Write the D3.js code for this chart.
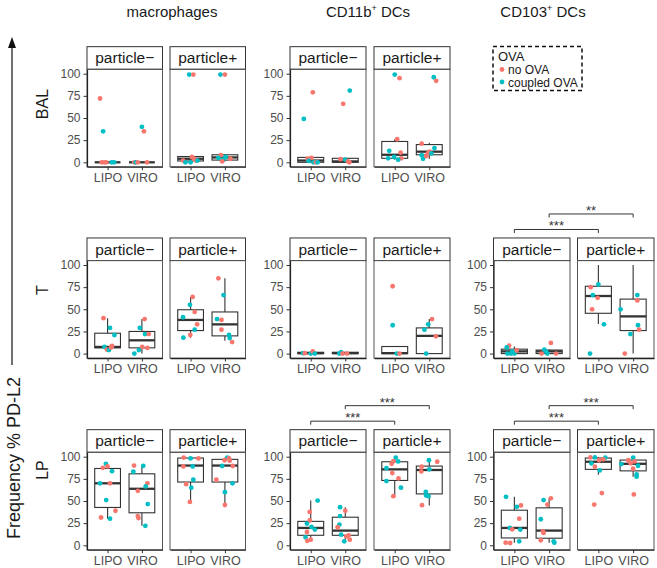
<!DOCTYPE html>
<html><head><meta charset="utf-8">
<script src="https://cdn.jsdelivr.net/npm/d3@7"></script>
<style>body{margin:0;background:#fff}svg{display:block;font-family:"Liberation Sans",Arial,sans-serif}</style>
</head><body><svg id="c" width="657" height="568"></svg>
<script>
// ---------------- data ----------------
const tissues = ["BAL", "T", "LP"];
const cellTypes = [["macrophages", ""], ["CD11b", "+", " DCs"], ["CD103", "+", " DCs"]];
const particles = ["particle\u2212", "particle+"];
const vehicles = ["LIPO", "VIRO"];
const ovaLevels = ["no OVA", "coupled OVA"];
const yTicks = [0, 25, 50, 75, 100];
const yLabel = "Frequency % PD-L2";

// box stats per panel: [p-LIPO, p-VIRO, p+LIPO, p+VIRO], each [lower whisker, Q1, median, Q3, upper whisker]
const balMacBoxes   = [[0,0,0,0,0],[0,0,0,0,0],[0,1.5,4,6.5,8],[1,2.5,5.5,8.5,9]];
const balCd11bBoxes = [[0,0,2,5.5,7],[0,0,1,4.5,5],[3,4.5,8.5,23.5,26],[4,8.5,12,20,22]];
const tMacBoxes     = [[2.5,6.5,7.5,23,40],[0,6.5,15,25,39],[18,26,38,49.5,64],[14.5,20,33,47,85]];
const tCd11bBoxes   = [[0,0,0.5,1.5,2.5],[0,0,0.5,1.5,1.5],[0,0,0.5,8,8],[0,0,20,29,39]];
const tCd103Boxes   = [[0,0,2.5,5,8],[0,0,2.5,4,4.5],[33.5,45.5,65,76,100],[0,26,42,61.5,100]];
const lpMacBoxes    = [[30,42.7,70,86.7,92],[22,36.7,63.8,80.7,89.7],[49,71.4,90,98.5,99],[45.5,71.4,90,97,99]];
const lpCd11bBoxes  = [[4.5,11.3,19.6,27,50.5],[4.5,11.3,16.6,31.7,43],[55.5,73.2,85.7,94.3,99],[45,58,85,89.4,97]];
const lpCd103Boxes  = [[3,8.3,19.6,39.6,54.7],[3,8,16.6,42.3,53],[79.6,85.7,94.3,98.5,99.6],[77.4,84,92,96.2,99]];

// points: [particle, vehicle, ova, value %, jitter (category units)]
const balMacPoints = [
 [0,0,0,72,-0.22],[0,0,1,35,-0.13],[0,0,0,0,-0.17],[0,0,0,0,-0.1],[0,0,0,0,-0.04],[0,0,1,0,0.12],[0,0,1,0,0.19],
 [0,1,1,40,0],[0,1,0,35,0.06],[0,1,0,0,-0.22],[0,1,1,0,-0.18],[0,1,0,0,-0.12],[0,1,0,0,0.15],
 [1,0,1,99,-0.04],[1,0,0,99,0.08],[1,0,0,2,-0.22],[1,0,1,0,-0.15],[1,0,1,0,0],[1,0,0,6,0.04],[1,0,0,4,0.1],[1,0,0,2,0.16],[1,0,1,2,0.2],
 [1,1,1,99,-0.13],[1,1,0,99,0],[1,1,0,8,-0.12],[1,1,1,5,-0.19],[1,1,1,3,-0.06],[1,1,0,1,-0.08],[1,1,1,6,0.02],[1,1,0,4,0.16]];
const balCd11bPoints = [
 [0,0,1,49,-0.2],[0,0,0,79,0.06],[0,0,0,4,-0.09],[0,0,0,5,0.02],[0,0,1,1.5,-0.06],[0,0,1,0,0.08],[0,0,0,0,0.15],[0,0,1,0,0.2],
 [0,1,1,81,0.13],[0,1,0,66,-0.06],[0,1,0,3.5,-0.14],[0,1,1,3,0],[0,1,0,1,0.08],[0,1,0,0,0.12],
 [1,0,1,99,0],[1,0,0,95,0.14],[1,0,0,26,0.07],[1,0,1,13,-0.16],[1,0,1,4.5,-0.19],[1,0,1,6,-0.02],[1,0,0,11,0.17],[1,0,0,4.5,0.19],[1,0,1,3,0.1],
 [1,1,1,96,0.13],[1,1,0,92,0.2],[1,1,0,21,-0.22],[1,1,1,16,0.15],[1,1,1,8,-0.22],[1,1,1,4,-0.18],[1,1,0,10,-0.04],[1,1,0,12,0.01],[1,1,1,10,0.06],[1,1,0,7,-0.09]];
const tMacPoints = [
 [0,0,0,40,-0.12],[0,0,1,29,0.07],[0,0,1,21,0.2],[0,0,1,7.5,-0.09],[0,0,0,4.5,-0.02],[0,0,1,4,0.04],[0,0,0,7,0.1],[0,0,0,8.6,0.13],
 [0,1,0,39,0.08],[0,1,1,29,-0.06],[0,1,1,22,0.09],[0,1,0,22,0.2],[0,1,0,7.5,0.01],[0,1,0,6.4,0.16],[0,1,1,4,-0.09],[0,1,1,0,-0.22],
 [1,0,0,64,0.06],[1,0,1,55,-0.02],[1,0,0,47,0.12],[1,0,1,41,-0.22],[1,0,0,33,0.19],[1,0,1,27,0.12],[1,0,0,21,-0.01],[1,0,1,18,-0.21],
 [1,1,0,85,-0.19],[1,1,1,66,-0.04],[1,1,1,39,-0.23],[1,1,0,38,-0.1],[1,1,0,27,-0.1],[1,1,1,21,0.12],[1,1,1,17.5,0.14],[1,1,0,13,0.21]];
const tCd11bPoints = [
 [0,0,1,0.5,-0.22],[0,0,0,0.5,-0.17],[0,0,1,0,0],[0,0,0,2.5,0.06],[0,0,1,0,0.12],
 [0,1,1,0,-0.17],[0,1,1,1.5,-0.12],[0,1,0,0,-0.08],[0,1,0,0,0.05],
 [1,0,0,76,-0.06],[1,0,1,32,-0.06],[1,0,1,0,0.06],[1,0,0,0,0.14],
 [1,1,0,39,0.08],[1,1,1,33,-0.03],[1,1,1,27,-0.14],[1,1,0,19.5,0.19],[1,1,1,0,-0.09]];
const tCd103Points = [
 [0,0,0,9,-0.15],[0,0,1,7,-0.22],[0,0,1,0,-0.2],[0,0,1,0,-0.1],[0,0,1,0,0],[0,0,0,3.8,0.06],[0,0,1,2.6,-0.06],
 [0,1,0,12,0.05],[0,1,1,4.5,-0.14],[0,1,1,2.3,-0.09],[0,1,1,0,-0.05],[0,1,0,0,-0.22],[0,1,0,0,0.2],
 [1,0,1,78,0],[1,0,0,75,-0.22],[1,0,1,66,-0.16],[1,0,0,63,-0.02],[1,0,0,50,-0.18],[1,0,1,33,0.16],[1,0,1,0,-0.24],
 [1,1,1,66,0.12],[1,1,0,60,0.12],[1,1,1,50,-0.36],[1,1,1,32,0.14],[1,1,0,27,0.17],[1,1,1,22,-0.08],[1,1,0,0,-0.24]];
const lpMacPoints = [
 [0,0,1,92,-0.05],[0,0,0,89,0],[0,0,0,87.5,-0.14],[0,0,1,83.7,0.13],[0,0,1,70,-0.22],[0,0,0,70,0.07],[0,0,1,51,-0.04],[0,0,0,39,0.23],[0,0,0,31.4,-0.19],[0,0,1,30,0.07],
 [0,1,0,90,-0.23],[0,1,1,89.7,0.04],[0,1,1,83,-0.25],[0,1,0,70,0.16],[0,1,1,66.4,0.11],[0,1,0,61.5,-0.12],[0,1,1,46.5,0.17],[0,1,0,33,-0.12],[0,1,0,30.7,-0.1],[0,1,1,22,0.1],
 [1,0,0,99,-0.2],[1,0,1,98,0],[1,0,0,98,0.23],[1,0,0,89,-0.21],[1,0,1,89,0.06],[1,0,1,74,0.08],[1,0,0,69,-0.13],[1,0,1,65,0.02],[1,0,0,49,-0.02],
 [1,1,1,99,0.07],[1,1,0,98,0.12],[1,1,0,96,-0.01],[1,1,0,95.5,0.14],[1,1,1,89.5,-0.08],[1,1,0,89.5,0.23],[1,1,0,74,-0.25],[1,1,1,70,0.22],[1,1,1,60,0],[1,1,0,45.5,0]];
const lpCd11bPoints = [
 [0,0,1,50.5,0.2],[0,0,0,37.7,-0.03],[0,0,0,28,-0.03],[0,0,1,24.5,-0.11],[0,0,1,20.7,0.02],[0,0,1,17.7,0.12],[0,0,0,15,-0.11],[0,0,1,9,-0.15],[0,0,0,6.4,0],[0,0,0,5,-0.1],
 [0,1,1,43,-0.15],[0,1,0,39,0],[0,1,1,33,-0.15],[0,1,1,23.4,-0.17],[0,1,0,20.4,-0.22],[0,1,1,12,-0.12],[0,1,0,11.3,0.1],[0,1,0,10,0.03],[0,1,1,4.5,-0.03],[0,1,0,6.4,0.13],
 [1,0,1,99,0.03],[1,0,0,95,-0.04],[1,0,1,94.7,0.1],[1,0,0,92,-0.09],[1,0,1,87,-0.24],[1,0,0,81.5,-0.07],[1,0,0,75.5,0.11],[1,0,1,72.5,-0.24],[1,0,1,65,0.18],[1,0,0,55.5,-0.04],
 [1,1,1,96,-0.01],[1,1,0,94.3,0.23],[1,1,0,88.7,-0.22],[1,1,1,85.7,0],[1,1,0,83.4,-0.23],[1,1,1,60.4,-0.1],[1,1,1,56.2,-0.09],[1,1,1,55.5,-0.02],[1,1,0,45.3,-0.21]];
const lpCd103Points = [
 [0,0,1,54.7,-0.24],[0,0,0,45,0.19],[0,0,1,43.4,0.07],[0,0,0,30,0.14],[0,0,1,19.6,-0.13],[0,0,0,18,-0.06],[0,0,1,17.7,0.17],[0,0,1,4.5,0.14],[0,0,0,3,-0.25],[0,0,0,2.6,-0.12],
 [0,1,0,53,0.05],[0,1,1,51,-0.16],[0,1,0,46,-0.05],[0,1,1,29.4,-0.24],[0,1,0,15.8,-0.18],[0,1,0,14,-0.16],[0,1,0,5.7,-0.24],[0,1,1,4.5,0.13],[0,1,1,3,0.15],
 [1,0,0,99.2,-0.23],[1,0,1,99.2,-0.1],[1,0,1,98.9,0.2],[1,0,0,96,0.02],[1,0,0,97,0.14],[1,0,1,92.5,-0.2],[1,0,0,88.7,-0.1],[1,0,1,84.5,0.04],[1,0,0,58.9,0.1],[1,0,0,46,-0.12],
 [1,1,1,99,0],[1,1,0,96,-0.14],[1,1,0,94.7,0.04],[1,1,0,92.5,-0.07],[1,1,1,91.7,-0.34],[1,1,1,89.8,0.14],[1,1,0,86.4,0],[1,1,1,80,0.1],[1,1,1,77.4,0.1],[1,1,0,57.4,0.02]];

// significance: [tissue, cell, fromParticle, fromVehicle, toParticle, toVehicle, level, label]
const sigTests = [
 [1,2,0,0,1,0,0,"***"],[1,2,0,1,1,1,1,"**"],
 [2,1,0,0,1,0,0,"***"],[2,1,0,1,1,1,1,"***"],
 [2,2,0,0,1,0,0,"***"],[2,2,0,1,1,1,1,"***"]];

const panelTable = [
 {t:0,c:0,boxes:balMacBoxes,points:balMacPoints},
 {t:0,c:1,boxes:balCd11bBoxes,points:balCd11bPoints},
 {t:1,c:0,boxes:tMacBoxes,points:tMacPoints},
 {t:1,c:1,boxes:tCd11bBoxes,points:tCd11bPoints},
 {t:1,c:2,boxes:tCd103Boxes,points:tCd103Points},
 {t:2,c:0,boxes:lpMacBoxes,points:lpMacPoints},
 {t:2,c:1,boxes:lpCd11bBoxes,points:lpCd11bPoints},
 {t:2,c:2,boxes:lpCd103Boxes,points:lpCd103Points}];

// ---------------- layout ----------------
const colLayout = [
 {panels:[[87,162.5],[170,245.5]], titleX:172},
 {panels:[[290,366],[374,450]], titleX:368},
 {panels:[[493.5,570],[577.5,654]], titleX:543}];
const rowY100 = [73.7, 265, 456.7];
const ppu = 0.886, stripH = 22.6;
const rowLabelY = [104, 290, 470];
const colors = ["#F8766D", "#00BFC4"];
const ink = "#333333", axisText = "#4D4D4D";

const svg = d3.select("#c");
const font = '"Liberation Sans",Arial,sans-serif';

function yScale(t){
  const y100 = rowY100[t];
  return d3.scaleLinear().domain([-5,105]).range([y100+105*ppu, y100-5*ppu]);
}
function xScale(c,p){
  return d3.scalePoint().domain(vehicles).range(colLayout[c].panels[p]).padding(0.6);
}

// column titles
cellTypes.forEach((ct,i)=>{
  const t = svg.append("text").attr("x",colLayout[i].titleX).attr("y",17)
    .attr("text-anchor","middle").attr("font-size",15).attr("fill","#1a1a1a");
  t.append("tspan").text(ct[0]);
  if(ct[1]){ t.append("tspan").attr("font-size",9).attr("dy",-6).text(ct[1]);
             t.append("tspan").attr("dy",6).text(ct[2]); }
});

// row labels
tissues.forEach((tl,i)=>{
  svg.append("text").attr("transform",`translate(48,${rowLabelY[i]}) rotate(-90)`)
    .attr("text-anchor","middle").attr("font-size",16).attr("fill","#1a1a1a").text(tl);
});

// y label and arrow
svg.append("text").attr("transform","translate(20,458) rotate(-90)")
  .attr("text-anchor","middle").attr("font-size",18).attr("fill","#1a1a1a").text(yLabel);
svg.append("line").attr("x1",12).attr("x2",12).attr("y1",365).attr("y2",46)
  .attr("stroke","#111").attr("stroke-width",1.2);
svg.append("path").attr("d","M12,37 L8,48 L16,48 Z").attr("fill","#111");

// panels
panelTable.forEach(pd=>{
  const y = yScale(pd.t);
  const [yb, yt] = y.range();
  particles.forEach((pl,p)=>{
    const x = xScale(pd.c,p);
    const [x0,x1] = x.range();
    const g = svg.append("g");
    // strip
    g.append("rect").attr("x",x0).attr("y",yt-stripH).attr("width",x1-x0).attr("height",stripH)
      .attr("fill","#fff").attr("stroke",ink).attr("stroke-width",1);
    g.append("text").attr("x",(x0+x1)/2).attr("y",yt-6).attr("text-anchor","middle")
      .attr("font-size",15.5).attr("fill","#1a1a1a").text(pl);
    // panel border
    g.append("rect").attr("x",x0).attr("y",yt).attr("width",x1-x0).attr("height",yb-yt)
      .attr("fill","none").attr("stroke","#555").attr("stroke-width",1);
    // boxes
    const bw = x.step()*0.75;
    vehicles.forEach((v,vi)=>{
      const [lo,q1,med,q3,hi] = pd.boxes[p*2+vi];
      const cx = x(v);
      const bg = g.append("g").attr("stroke",ink).attr("fill","none");
      bg.append("line").attr("x1",cx).attr("x2",cx).attr("y1",y(hi)).attr("y2",y(q3)).attr("stroke-width",1.1);
      bg.append("line").attr("x1",cx).attr("x2",cx).attr("y1",y(q1)).attr("y2",y(lo)).attr("stroke-width",1.1);
      bg.append("rect").attr("x",cx-bw/2).attr("y",y(q3)).attr("width",bw).attr("height",Math.max(0,y(q1)-y(q3)))
        .attr("fill","#fff").attr("stroke-width",1.1);
      bg.append("line").attr("x1",cx-bw/2).attr("x2",cx+bw/2).attr("y1",y(med)).attr("y2",y(med)).attr("stroke-width",2.3);
    });
    // points
    g.selectAll("circle.pt").data(pd.points.filter(d=>d[0]===p)).join("circle")
      .attr("cx",d=>x(vehicles[d[1]])+d[4]*x.step()).attr("cy",d=>y(d[3]))
      .attr("r",2.4).attr("fill",d=>colors[d[2]]);
    // x axis
    const xa = g.append("g").attr("transform",`translate(0,${yb})`)
      .call(d3.axisBottom(x).tickSize(3.5).tickSizeOuter(0));
    xa.select(".domain").attr("stroke","#222").attr("stroke-width",1.2);
    xa.selectAll(".tick line").attr("stroke","#333");
    xa.selectAll("text").attr("font-size",12.5).attr("fill",axisText).attr("font-family",font);
    if(p===0){
      const ya = g.append("g").attr("transform",`translate(${x0},0)`)
        .call(d3.axisLeft(y).tickValues(yTicks).tickSize(3.5).tickSizeOuter(0));
      ya.select(".domain").attr("stroke","#222").attr("stroke-width",1.2);
      ya.selectAll(".tick line").attr("stroke","#333");
      ya.selectAll("text").attr("font-size",12).attr("fill",axisText).attr("font-family",font);
    }
  });
});

// significance brackets
sigTests.forEach(([t,c,fp,fv,tp,tv,lvl,lab])=>{
  const y = yScale(t);
  const stripTop = y.range()[1]-stripH;
  const ly = stripTop - (lvl===0 ? 8.5 : 24);
  const xa = xScale(c,fp)(vehicles[fv]), xb = xScale(c,tp)(vehicles[tv]);
  svg.append("path").attr("d",`M${xa},${ly+3.5}V${ly}H${xb}V${ly+3.5}`)
    .attr("fill","none").attr("stroke","#333").attr("stroke-width",1);
  svg.append("text").attr("x",(xa+xb)/2).attr("y",ly+1).attr("text-anchor","middle")
    .attr("font-size",13).attr("fill","#333").text(lab);
});

// legend
const lg = svg.append("g");
lg.append("rect").attr("x",493).attr("y",46.5).attr("width",89).attr("height",44)
  .attr("fill","none").attr("stroke","#111").attr("stroke-width",1.5).attr("stroke-dasharray","4,3");
lg.append("text").attr("x",498).attr("y",61).attr("font-size",13).attr("fill","#1a1a1a").text("OVA");
ovaLevels.forEach((o,i)=>{
  lg.append("circle").attr("cx",502).attr("cy",69.5+i*12.5).attr("r",2.4).attr("fill",colors[i]);
  lg.append("text").attr("x",508).attr("y",74+i*12.5).attr("font-size",12).attr("fill","#1a1a1a").text(o);
});
</script></body></html>
